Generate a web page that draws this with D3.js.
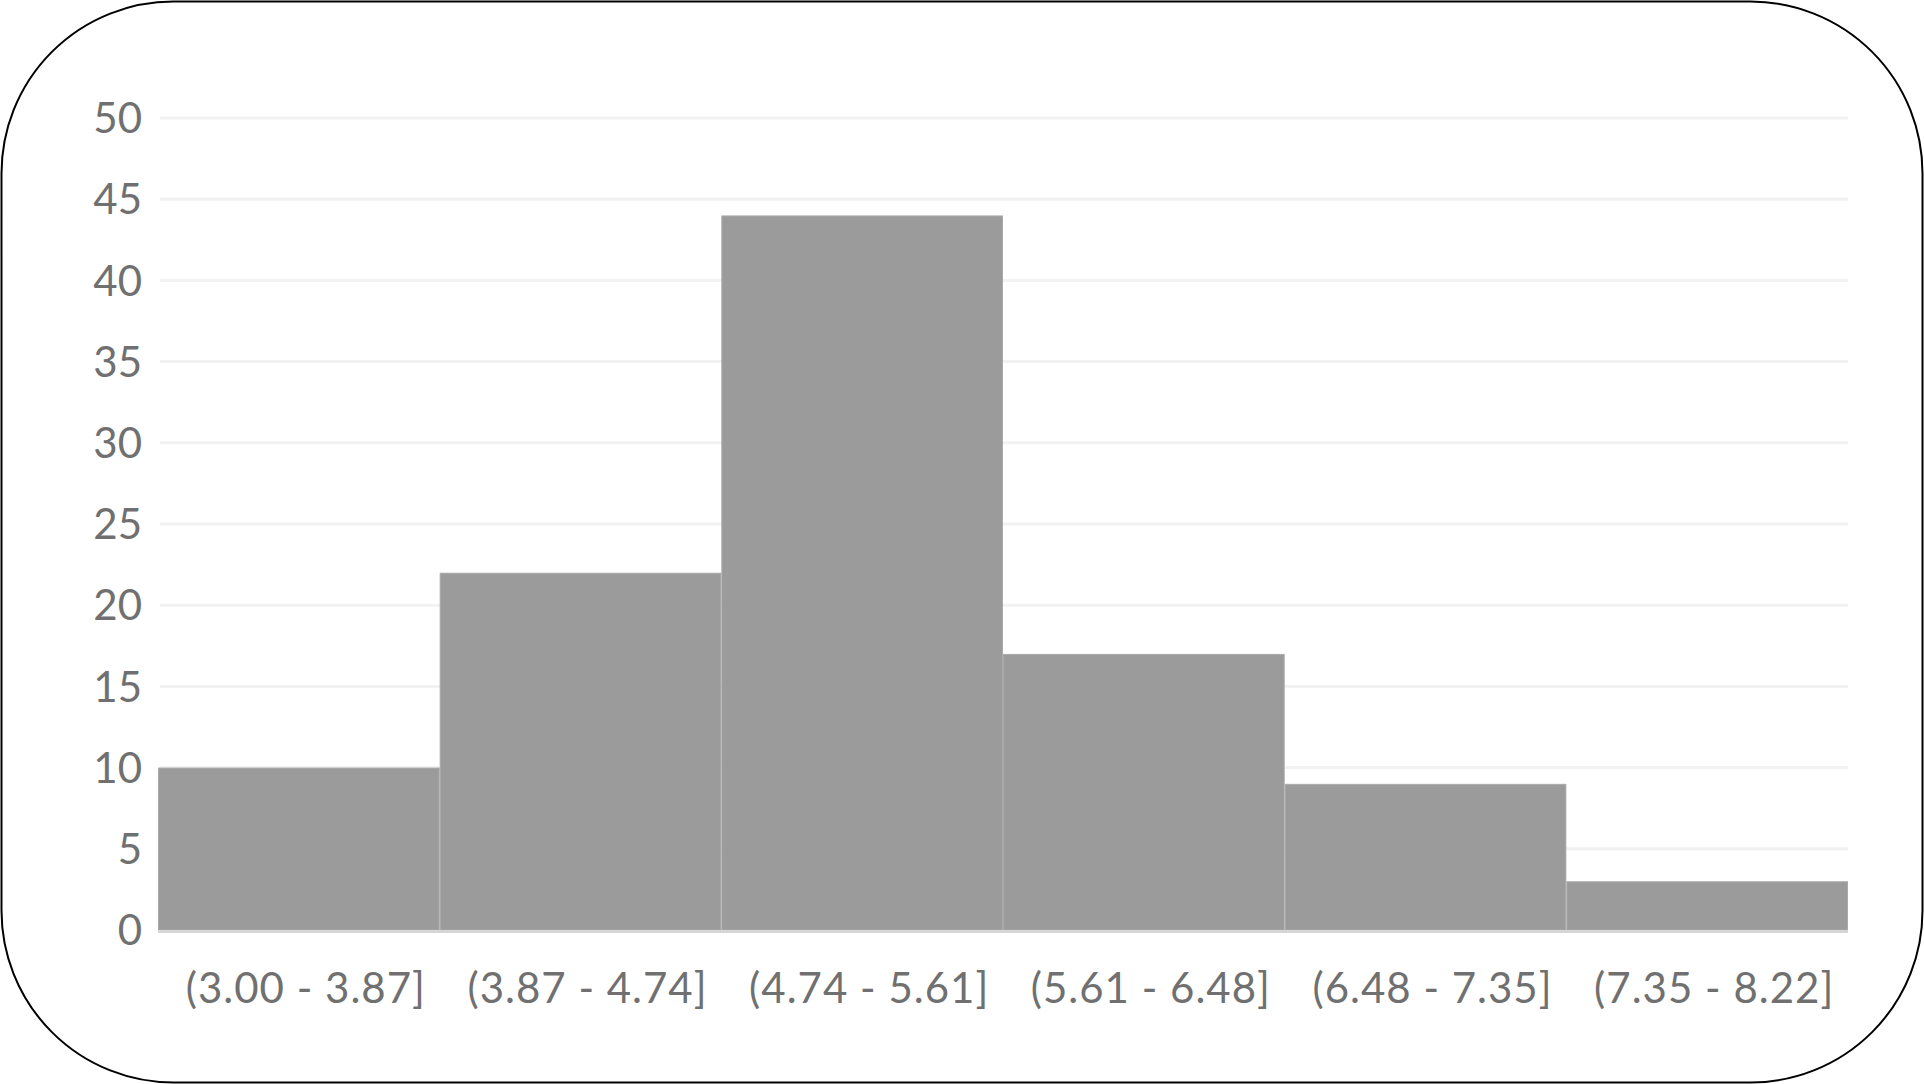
<!DOCTYPE html>
<html>
<head>
<meta charset="utf-8">
<script src="https://cdn.jsdelivr.net/npm/d3@7"></script>
<style>
  html, body { margin: 0; padding: 0; background: #fff; }
  svg { display: block; }
</style>
</head>
<body>
<svg id="chart" width="1924" height="1084"></svg>
<script>
const categories = ["(3.00 - 3.87]", "(3.87 - 4.74]", "(4.74 - 5.61]", "(5.61 - 6.48]", "(6.48 - 7.35]", "(7.35 - 8.22]"];
const counts = [10, 22, 44, 17, 9, 3];
const yTicks = [0, 5, 10, 15, 20, 25, 30, 35, 40, 45, 50];

const svg = d3.select("#chart");
const W = 1924, H = 1084;
const margin = { left: 158, right: 76, top: 118, bottom: 154 };

svg.append("rect")
  .attr("x", 1.5).attr("y", 1.5)
  .attr("width", W - 3).attr("height", H - 3)
  .attr("rx", 172).attr("ry", 172)
  .attr("fill", "#fff").attr("stroke", "#000").attr("stroke-width", 2);

const x = d3.scaleBand().domain(categories).range([margin.left, W - margin.right]).padding(0);
const y = d3.scaleLinear().domain([0, 50]).range([H - margin.bottom, margin.top]);

const font = "Lato, 'Noto Sans', sans-serif";

// gridlines
svg.append("g").selectAll("line").data(yTicks.filter(d => d > 0)).join("line")
  .attr("x1", margin.left + 2).attr("x2", W - margin.right)
  .attr("y1", d => y(d)).attr("y2", d => y(d))
  .attr("stroke", "#f2f2f2").attr("stroke-width", 3);

// bars
svg.append("g").selectAll("rect").data(counts).join("rect")
  .attr("x", (d, i) => x(categories[i]) + 0.5)
  .attr("y", d => y(d) + 0.5)
  .attr("width", x.bandwidth() - 1)
  .attr("height", d => y(0) - y(d) - 0.5)
  .attr("fill", "#9b9b9b")
  .attr("stroke", "#a9a9a9").attr("stroke-width", 1);

// baseline
svg.append("line")
  .attr("x1", margin.left).attr("x2", W - margin.right)
  .attr("y1", y(0) + 1.5).attr("y2", y(0) + 1.5)
  .attr("stroke", "#d6d6d6").attr("stroke-width", 3);

// y axis
const yAxis = d3.axisLeft(y).tickValues(yTicks).tickSize(0).tickPadding(0);
const gy = svg.append("g").attr("transform", `translate(${margin.left - 16},0)`).call(yAxis);
gy.select(".domain").remove();
gy.selectAll("text").attr("font-family", font).attr("font-size", 42).attr("fill", "#707070").attr("dy", "0.35em");

// x axis
const xAxis = d3.axisBottom(x).tickSize(0).tickPadding(0);
const gx = svg.append("g").attr("transform", `translate(7,${y(0) + 58})`).call(xAxis);
gx.select(".domain").remove();
gx.selectAll("text").attr("font-family", font).attr("font-size", 42).attr("letter-spacing", "1px").attr("fill", "#707070").attr("dy", "0.35em");
</script>
</body>
</html>
